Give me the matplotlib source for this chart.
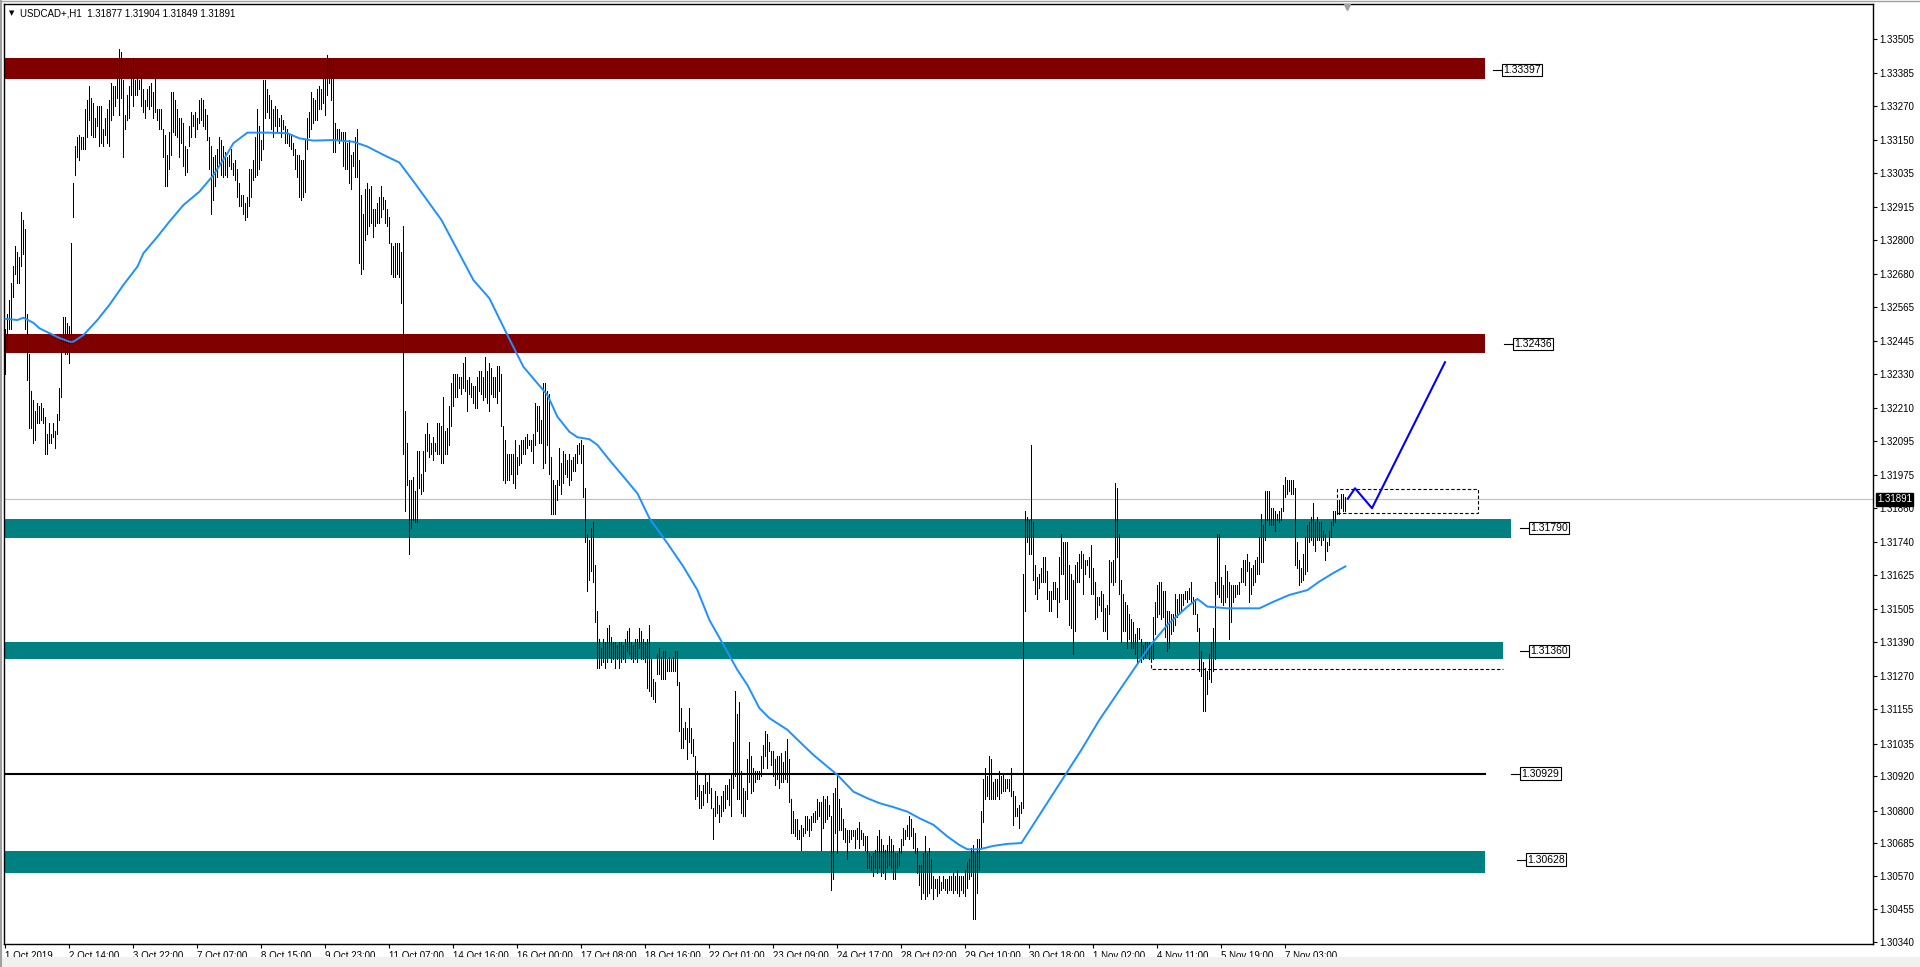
import matplotlib
matplotlib.use("Agg")
import matplotlib.pyplot as plt
from matplotlib.patches import Rectangle

plt.rcParams['font.family'] = ['Liberation Sans', 'DejaVu Sans']

# ---- data (prices in units of 0.0001) ----
symbol_info = "USDCAD+,H1  1.31877 1.31904 1.31849 1.31891"
last_price = 1.31891

bar_high = [
    13249, 13254, 13259, 13265, 13271, 13278, 13276, 13274, 13290, 13287,
    13284, 13254, 13240, 13227, 13224, 13220, 13223, 13222, 13223, 13221,
    13218, 13212, 13216, 13212, 13216, 13213, 13219, 13228, 13245, 13253,
    13253, 13251, 13250, 13279, 13300, 13313, 13316, 13317, 13316, 13316,
    13326, 13329, 13334, 13330, 13328, 13323, 13327, 13327, 13327, 13319,
    13323, 13326, 13329, 13335, 13334, 13334, 13342, 13347, 13346, 13336,
    13324, 13331, 13334, 13340, 13344, 13336, 13339, 13336, 13338, 13333,
    13329, 13333, 13334, 13335, 13332, 13338, 13326, 13326, 13326, 13319,
    13317, 13310, 13318, 13332, 13332, 13329, 13326, 13323, 13323, 13321,
    13313, 13312, 13320, 13325, 13324, 13325, 13323, 13329, 13330, 13329,
    13326, 13324, 13316, 13313, 13309, 13310, 13312, 13316, 13315, 13313,
    13311, 13309, 13310, 13312, 13307, 13308, 13305, 13300, 13296, 13296,
    13293, 13295, 13305, 13305, 13308, 13316, 13326, 13320, 13315, 13336,
    13336, 13333, 13331, 13329, 13326, 13327, 13326, 13323, 13324, 13322,
    13320, 13319, 13317, 13317, 13314, 13312, 13310, 13310, 13308, 13308,
    13315, 13323, 13325, 13332, 13330, 13329, 13333, 13334, 13333, 13337,
    13337, 13345, 13344, 13343, 13343, 13321, 13319, 13319, 13318, 13318,
    13318, 13314, 13315, 13310, 13311, 13316, 13319, 13308, 13296, 13289,
    13298, 13300, 13298, 13299, 13291, 13291, 13293, 13295, 13299, 13295,
    13294, 13291, 13288, 13279, 13278, 13279, 13279, 13279, 13276, 13285,
    13220, 13209, 13196, 13196, 13197, 13192, 13206, 13206, 13198, 13206,
    13212, 13216, 13212, 13209, 13211, 13209, 13216, 13216, 13215, 13225,
    13213, 13214, 13222, 13230, 13233, 13233, 13233, 13232, 13232, 13237,
    13239, 13231, 13232, 13230, 13229, 13229, 13232, 13234, 13234, 13232,
    13239, 13234, 13237, 13235, 13232, 13232, 13236, 13236, 13233, 13215,
    13210, 13205, 13205, 13205, 13205, 13210, 13204, 13208, 13210, 13210,
    13211, 13212, 13210, 13210, 13212, 13223, 13222, 13222, 13217, 13230,
    13230, 13227, 13226, 13204, 13196, 13194, 13196, 13207, 13202, 13206,
    13205, 13203, 13205, 13203, 13204, 13205, 13208, 13209, 13210, 13208,
    13193, 13177, 13175, 13179, 13181, 13166, 13150, 13140, 13137, 13140,
    13139, 13144, 13145, 13141, 13139, 13139, 13138, 13139, 13139, 13138,
    13140, 13143, 13144, 13139, 13138, 13140, 13140, 13144, 13143, 13140,
    13139, 13140, 13145, 13133, 13126, 13125, 13135, 13137, 13134, 13136,
    13136, 13133, 13134, 13133, 13134, 13136, 13136, 13125, 13116, 13109,
    13111, 13109, 13116, 13109, 13105, 13099, 13094, 13089, 13087, 13089,
    13093, 13090, 13093, 13088, 13081, 13087, 13085, 13082, 13085, 13087,
    13089, 13089, 13091, 13093, 13104, 13122, 13114, 13118, 13094, 13088,
    13087, 13098, 13104, 13099, 13095, 13094, 13094, 13094, 13099, 13103,
    13108, 13107, 13104, 13101, 13101, 13098, 13099, 13099, 13100, 13097,
    13101, 13105, 13098, 13084, 13080, 13077, 13077, 13073, 13075, 13074,
    13078, 13078, 13077, 13078, 13079, 13080, 13084, 13083, 13083, 13085,
    13084, 13085, 13082, 13078, 13086, 13088, 13092, 13084, 13081, 13077,
    13074, 13073, 13073, 13073, 13073, 13073, 13074, 13076, 13073, 13072,
    13071, 13071, 13065, 13064, 13065, 13066, 13071, 13073, 13070, 13068,
    13066, 13068, 13071, 13070, 13068, 13065, 13065, 13067, 13070, 13074,
    13073, 13075, 13078, 13077, 13074, 13072, 13067, 13061, 13061, 13065,
    13071, 13065, 13067, 13063, 13057, 13056, 13056, 13057, 13055, 13057,
    13056, 13056, 13057, 13057, 13058, 13057, 13059, 13057, 13057, 13057,
    13059, 13062, 13063, 13067, 13068, 13065, 13070, 13070, 13080, 13091,
    13095, 13092, 13099, 13098, 13090, 13091, 13091, 13094, 13092, 13093,
    13091, 13091, 13091, 13095, 13087, 13085, 13081, 13082, 13083, 13163,
    13185, 13183, 13182, 13208, 13181, 13166, 13162, 13163, 13165, 13169,
    13169, 13164, 13157, 13157, 13160, 13160, 13158, 13169, 13177, 13174,
    13174, 13174, 13166, 13163, 13161, 13166, 13167, 13170, 13171, 13170,
    13168, 13168, 13169, 13173, 13165, 13160, 13155, 13155, 13157, 13156,
    13151, 13152, 13168, 13167, 13168, 13195, 13193, 13177, 13161, 13156,
    13153, 13152, 13149, 13147, 13146, 13142, 13144, 13144, 13140, 13138,
    13139, 13139, 13139, 13138, 13148, 13153, 13159, 13160, 13160, 13157,
    13157, 13150, 13150, 13149, 13149, 13156, 13154, 13156, 13156, 13156,
    13157, 13157, 13158, 13160, 13155, 13154, 13149, 13144, 13136, 13132,
    13130, 13129, 13135, 13139, 13144, 13160, 13177, 13177, 13162, 13159,
    13166, 13164, 13160, 13159, 13159, 13159, 13159, 13160, 13165, 13168,
    13168, 13170, 13167, 13165, 13166, 13168, 13169, 13176, 13184, 13180,
    13192, 13192, 13192, 13186, 13186, 13185, 13184, 13185, 13186, 13194,
    13197, 13196, 13196, 13196, 13196, 13193, 13174, 13168, 13165, 13170,
    13176, 13180, 13181, 13183, 13188, 13181, 13183, 13181, 13181, 13178,
    13177, 13174, 13178, 13181, 13185, 13185, 13188, 13189, 13191, 13191,
    13190,
]

bar_low = [
    13233, 13242, 13249, 13249, 13260, 13268, 13265, 13265, 13271, 13275,
    13249, 13231, 13214, 13214, 13209, 13210, 13216, 13216, 13217, 13216,
    13205, 13205, 13209, 13209, 13211, 13207, 13212, 13217, 13225, 13241,
    13240, 13240, 13237, 13245, 13288, 13303, 13309, 13308, 13312, 13312,
    13312, 13316, 13322, 13317, 13316, 13316, 13320, 13313, 13314, 13313,
    13317, 13314, 13313, 13322, 13324, 13327, 13330, 13324, 13330, 13309,
    13319, 13322, 13323, 13331, 13327, 13331, 13331, 13333, 13327, 13325,
    13323, 13327, 13326, 13327, 13323, 13325, 13322, 13319, 13319, 13309,
    13299, 13299, 13305, 13310, 13318, 13317, 13316, 13309, 13314, 13306,
    13303, 13304, 13313, 13316, 13320, 13316, 13319, 13321, 13322, 13320,
    13319, 13315, 13305, 13289, 13294, 13299, 13302, 13306, 13303, 13302,
    13303, 13302, 13306, 13305, 13303, 13301, 13295, 13292, 13292, 13289,
    13287, 13288, 13292, 13295, 13301, 13302, 13303, 13305, 13308, 13312,
    13323, 13325, 13323, 13319, 13316, 13320, 13318, 13320, 13316, 13319,
    13314, 13314, 13313, 13312, 13310, 13305, 13302, 13295, 13294, 13295,
    13297, 13312, 13316, 13319, 13321, 13322, 13322, 13326, 13326, 13328,
    13324, 13331, 13335, 13329, 13311, 13311, 13315, 13314, 13315, 13306,
    13305, 13305, 13300, 13298, 13306, 13302, 13302, 13272, 13268, 13270,
    13280, 13282, 13285, 13286, 13281, 13285, 13286, 13286, 13288, 13291,
    13286, 13285, 13279, 13268, 13267, 13267, 13268, 13267, 13258, 13205,
    13185, 13194, 13170, 13179, 13182, 13181, 13181, 13193, 13191, 13192,
    13199, 13206, 13204, 13205, 13203, 13206, 13205, 13205, 13202, 13202,
    13205, 13205, 13208, 13215, 13222, 13225, 13225, 13228, 13226, 13228,
    13227, 13220, 13226, 13225, 13223, 13221, 13221, 13227, 13226, 13224,
    13225, 13223, 13220, 13226, 13225, 13225, 13223, 13227, 13215, 13196,
    13195, 13196, 13196, 13198, 13195, 13193, 13198, 13201, 13202, 13205,
    13205, 13207, 13208, 13206, 13202, 13208, 13213, 13209, 13209, 13200,
    13202, 13208, 13198, 13184, 13184, 13184, 13189, 13194, 13191, 13195,
    13198, 13197, 13194, 13196, 13199, 13199, 13202, 13205, 13202, 13190,
    13174, 13157, 13161, 13164, 13160, 13146, 13130, 13130, 13131, 13132,
    13130, 13132, 13134, 13132, 13133, 13130, 13133, 13130, 13132, 13133,
    13132, 13136, 13135, 13133, 13132, 13133, 13132, 13137, 13133, 13133,
    13132, 13123, 13122, 13120, 13119, 13118, 13128, 13128, 13126, 13126,
    13126, 13129, 13129, 13129, 13129, 13129, 13124, 13108, 13102, 13102,
    13105, 13098, 13104, 13100, 13099, 13084, 13085, 13081, 13081, 13082,
    13086, 13083, 13086, 13081, 13070, 13078, 13079, 13076, 13078, 13080,
    13081, 13084, 13082, 13078, 13088, 13092, 13084, 13084, 13079, 13078,
    13078, 13084, 13090, 13086, 13087, 13090, 13091, 13091, 13092, 13095,
    13099, 13095, 13101, 13096, 13092, 13089, 13091, 13088, 13090, 13090,
    13091, 13090, 13083, 13072, 13072, 13071, 13070, 13070, 13066, 13071,
    13072, 13073, 13071, 13073, 13076, 13076, 13077, 13078, 13066, 13074,
    13076, 13077, 13078, 13052, 13056, 13072, 13065, 13073, 13073, 13070,
    13069, 13063, 13069, 13070, 13071, 13067, 13070, 13067, 13070, 13068,
    13066, 13060, 13060, 13059, 13057, 13060, 13058, 13060, 13057, 13058,
    13056, 13060, 13061, 13060, 13056, 13056, 13060, 13061, 13065, 13068,
    13070, 13071, 13070, 13071, 13067, 13065, 13058, 13054, 13049, 13051,
    13049, 13050, 13051, 13053, 13049, 13053, 13050, 13051, 13052, 13053,
    13052, 13051, 13052, 13052, 13051, 13052, 13051, 13050, 13052, 13051,
    13050, 13053, 13056, 13057, 13042, 13042, 13051, 13059, 13067, 13076,
    13084, 13085, 13084, 13084, 13084, 13084, 13085, 13084, 13086, 13087,
    13087, 13088, 13087, 13085, 13075, 13078, 13078, 13074, 13079, 13081,
    13150, 13174, 13170, 13170, 13161, 13156, 13154, 13158, 13160, 13160,
    13160, 13154, 13150, 13150, 13154, 13154, 13148, 13153, 13163, 13163,
    13154, 13154, 13145, 13144, 13135, 13143, 13160, 13160, 13165, 13156,
    13163, 13166, 13162, 13156, 13156, 13147, 13148, 13152, 13150, 13143,
    13143, 13140, 13149, 13160, 13159, 13160, 13169, 13156, 13139, 13143,
    13143, 13137, 13140, 13137, 13137, 13135, 13132, 13140, 13132, 13133,
    13134, 13135, 13133, 13133, 13133, 13142, 13148, 13149, 13147, 13148,
    13141, 13136, 13137, 13142, 13143, 13145, 13148, 13149, 13150, 13152,
    13154, 13153, 13154, 13153, 13149, 13149, 13143, 13129, 13127, 13115,
    13115, 13121, 13126, 13125, 13129, 13133, 13156, 13155, 13153, 13152,
    13153, 13155, 13140, 13146, 13153, 13155, 13156, 13156, 13160, 13160,
    13159, 13164, 13153, 13156, 13159, 13160, 13163, 13163, 13167, 13167,
    13175, 13182, 13180, 13180, 13180, 13178, 13182, 13181, 13182, 13185,
    13190, 13191, 13192, 13191, 13191, 13166, 13165, 13159, 13160, 13161,
    13163, 13164, 13174, 13175, 13173, 13171, 13175, 13175, 13173, 13175,
    13168, 13171, 13173, 13176, 13180, 13181, 13184, 13184, 13186, 13185,
    13185,
]

# moving average, read at selected bars
ma_bar = [
    0, 6, 9, 14, 17, 22, 27, 32, 34, 39,
    46, 52, 59, 66, 69, 76, 82, 89, 97, 104,
    111, 114, 121, 131, 141, 147, 154, 164, 174, 181,
    189, 197, 205, 218, 234, 242, 251, 259, 266, 271,
    276, 282, 286, 292, 296, 302, 309, 316, 322, 331,
    339, 346, 352, 359, 366, 371, 377, 382, 391, 397,
    404, 411, 416, 424, 431, 437, 444, 451, 457, 464,
    471, 477, 481, 487, 494, 501, 508, 538, 547, 556,
    564, 572, 581, 591, 596, 601, 611, 627, 634, 642,
    651, 657, 664, 670,
]
ma_value = [
    13252.4, 13252.0, 13252.8, 13251.0, 13249.1, 13247.4, 13245.7, 13244.4, 13244.4, 13246.7,
    13252.0, 13257.3, 13264.3, 13270.7, 13275.4, 13281.2, 13286.5, 13292.3, 13297.0, 13302.8,
    13310.4, 13314.0, 13317.7, 13317.7, 13317.5, 13315.7, 13314.9, 13315.1, 13314.5, 13312.8,
    13309.9, 13307.2, 13299.7, 13287.1, 13266.0, 13259.6, 13246.7, 13235.6, 13229.8, 13225.7,
    13218.1, 13212.8, 13210.9, 13210.2, 13208.2, 13202.9, 13197.1, 13191.2, 13182.5, 13173.7,
    13165.5, 13157.3, 13146.8, 13138.1, 13129.3, 13124.0, 13115.9, 13112.4, 13108.3, 13104.2,
    13099.5, 13095.4, 13092.5, 13086.6, 13084.3, 13082.6, 13081.2, 13079.6, 13077.3, 13075.0,
    13070.9, 13067.9, 13066.4, 13066.4, 13067.6, 13068.3, 13068.6, 13101.3, 13111.8, 13121.1,
    13129.3, 13137.5, 13145.1, 13151.5, 13154.2, 13151.5, 13150.9, 13150.9, 13153.2, 13155.6,
    13157.3, 13160.3, 13163.3, 13165.6,
]

# support / resistance zones
zone_level = [1.33397, 1.32436, 1.31790, 1.31360, 1.30628]
zone_top = [1.33438, 1.32471, 1.31822, 1.31391, 1.30658]
zone_bottom = [1.33364, 1.32403, 1.31756, 1.31333, 1.30581]
zone_color = ["#800000", "#800000", "#008080", "#008080", "#008080"]
zone_end = [740, 740, 753, 749, 740]
zone_label_x = [749, 754.5, 762.3, 762.3, 761]

line_level = 1.30929
line_end = 740
line_label_x = 758

# forecast path
forecast_bar = [671.2, 674.8, 683.3, 719.8]
forecast_value = [1.31893, 1.31930, 1.31860, 1.32372]

# dashed boxes
box_bar = [665.8, 736.3]
box_price = [1.31843, 1.31928]
range_bar = [573, 749]
range_price = [1.31333, 1.31295]

date_labels = ["1 Oct 2019", "2 Oct 14:00", "3 Oct 22:00", "7 Oct 07:00", "8 Oct 15:00",
               "9 Oct 23:00", "11 Oct 07:00", "14 Oct 16:00", "16 Oct 00:00", "17 Oct 08:00",
               "18 Oct 16:00", "22 Oct 01:00", "23 Oct 09:00", "24 Oct 17:00", "28 Oct 02:00",
               "29 Oct 10:00", "30 Oct 18:00", "1 Nov 02:00", "4 Nov 11:00", "5 Nov 19:00",
               "7 Nov 03:00"]
date_step = 32

price_ticks = [1.33505, 1.33385, 1.33270, 1.33150, 1.33035, 1.32915, 1.32800, 1.32680,
               1.32565, 1.32445, 1.32330, 1.32210, 1.32095, 1.31975, 1.31860, 1.31740,
               1.31625, 1.31505, 1.31390, 1.31270, 1.31155, 1.31035, 1.30920, 1.30800,
               1.30685, 1.30570, 1.30455, 1.30340]

# ---- figure ----
W, H = 1920, 967
fig = plt.figure(figsize=(W / 100, H / 100), dpi=100)
fig.patch.set_facecolor("white")
ax = fig.add_axes([4 / W, 23 / H, 1869 / W, 940 / H])
ax.set_xlim(-0.7, 933.8)
ax.set_ylim(1.30332, 1.33628)

xs = list(range(len(bar_high)))
highs = [v / 10000 for v in bar_high]
lows = [v / 10000 for v in bar_low]

x0 = -0.7
for lvl, top, bot, col, end, lx in zip(zone_level, zone_top, zone_bottom, zone_color,
                                        zone_end, zone_label_x):
    ax.add_patch(Rectangle((x0, bot), end - x0, top - bot, facecolor=col,
                           edgecolor="none", zorder=1))
    ax.plot([lx - 5, lx], [lvl, lvl], color="black", lw=0.8, zorder=3)
    ax.text(lx, lvl, f"{lvl:.5f}", fontsize=7.5, va="center", ha="left", zorder=4,
            bbox=dict(boxstyle="square,pad=0.12", fc="white", ec="black", lw=0.8))

ax.plot([x0, line_end], [line_level, line_level], color="black", lw=1.5, zorder=2)
ax.plot([line_label_x - 5, line_label_x], [line_level, line_level], color="black", lw=0.8)
ax.text(line_label_x, line_level, f"{line_level:.5f}", fontsize=7.5, va="center", ha="left",
        zorder=4, bbox=dict(boxstyle="square,pad=0.12", fc="white", ec="black", lw=0.8))

# current price line
ax.axhline(last_price, color="#C0C0C0", lw=0.8, zorder=1.5)

# dashed range line under the 1.31360 zone
ax.plot([range_bar[0], range_bar[0], range_bar[1]],
        [range_price[0], range_price[1], range_price[1]],
        color="black", lw=0.8, ls=(0, (3, 2)), zorder=0.8)

# bars (thin 1px lines)
ax.vlines(xs, lows, highs, color="black", linewidth=0.55, antialiased=False, zorder=2)

# moving average
ax.plot(ma_bar, [v / 10000 for v in ma_value], color="#1E90FF", lw=1.4, zorder=3)

# dashed box near last price
ax.add_patch(Rectangle((box_bar[0], box_price[0]), box_bar[1] - box_bar[0],
                       box_price[1] - box_price[0], fill=False, ec="black", lw=0.8,
                       ls=(0, (3, 2)), zorder=3))

# forecast path
ax.plot(forecast_bar, forecast_value, color="#0000FF", lw=1.5, zorder=4)

# chart shift marker
ax.plot([len(bar_high) - 0.2], [1.33628 - 0.00012], marker="v", color="#A0A0A0",
        markersize=5, clip_on=False, zorder=5)

# axes styling
for s in ax.spines.values():
    s.set_color("black")
    s.set_linewidth(1.0)

ax.set_xticks([i * date_step for i in range(len(date_labels))])
ax.set_xticklabels(date_labels, ha="left", fontsize=7)
ax.tick_params(axis="x", direction="out", length=3, width=0.8, pad=2)

ax.yaxis.tick_right()
ax.set_yticks(price_ticks)
ax.set_yticklabels([f"{v:.5f}" for v in price_ticks], fontsize=7)
ax.tick_params(axis="y", direction="out", length=3, width=0.8, pad=1.5)

ax.annotate(f"{last_price:.5f}", xy=(1, last_price), xycoords=("axes fraction", "data"),
            xytext=(3, 0), textcoords="offset points", fontsize=7, color="white",
            va="center", ha="left", zorder=6,
            bbox=dict(boxstyle="square,pad=0.12", fc="black", ec="black"))

# header
fig.text(9 / W, 1 - 13 / H, "\u25BC", fontsize=5, va="center", ha="left",
         family="DejaVu Sans")
fig.text(20 / W, 1 - 13 / H, symbol_info, fontsize=7, va="center", ha="left")

# window frame
fig.patches.append(Rectangle((0, 0), 1, 10 / H, transform=fig.transFigure,
                             facecolor="#F0F0F0", edgecolor="none"))
fig.lines.append(plt.Line2D([0, 1], [1 - 0.5 / H, 1 - 0.5 / H], transform=fig.transFigure,
                            color="#A0A0A0", lw=1))
fig.lines.append(plt.Line2D([1 / W, 1 / W], [0, 1], transform=fig.transFigure,
                            color="#A0A0A0", lw=1.5))

fig.savefig("out.png", dpi=100)
